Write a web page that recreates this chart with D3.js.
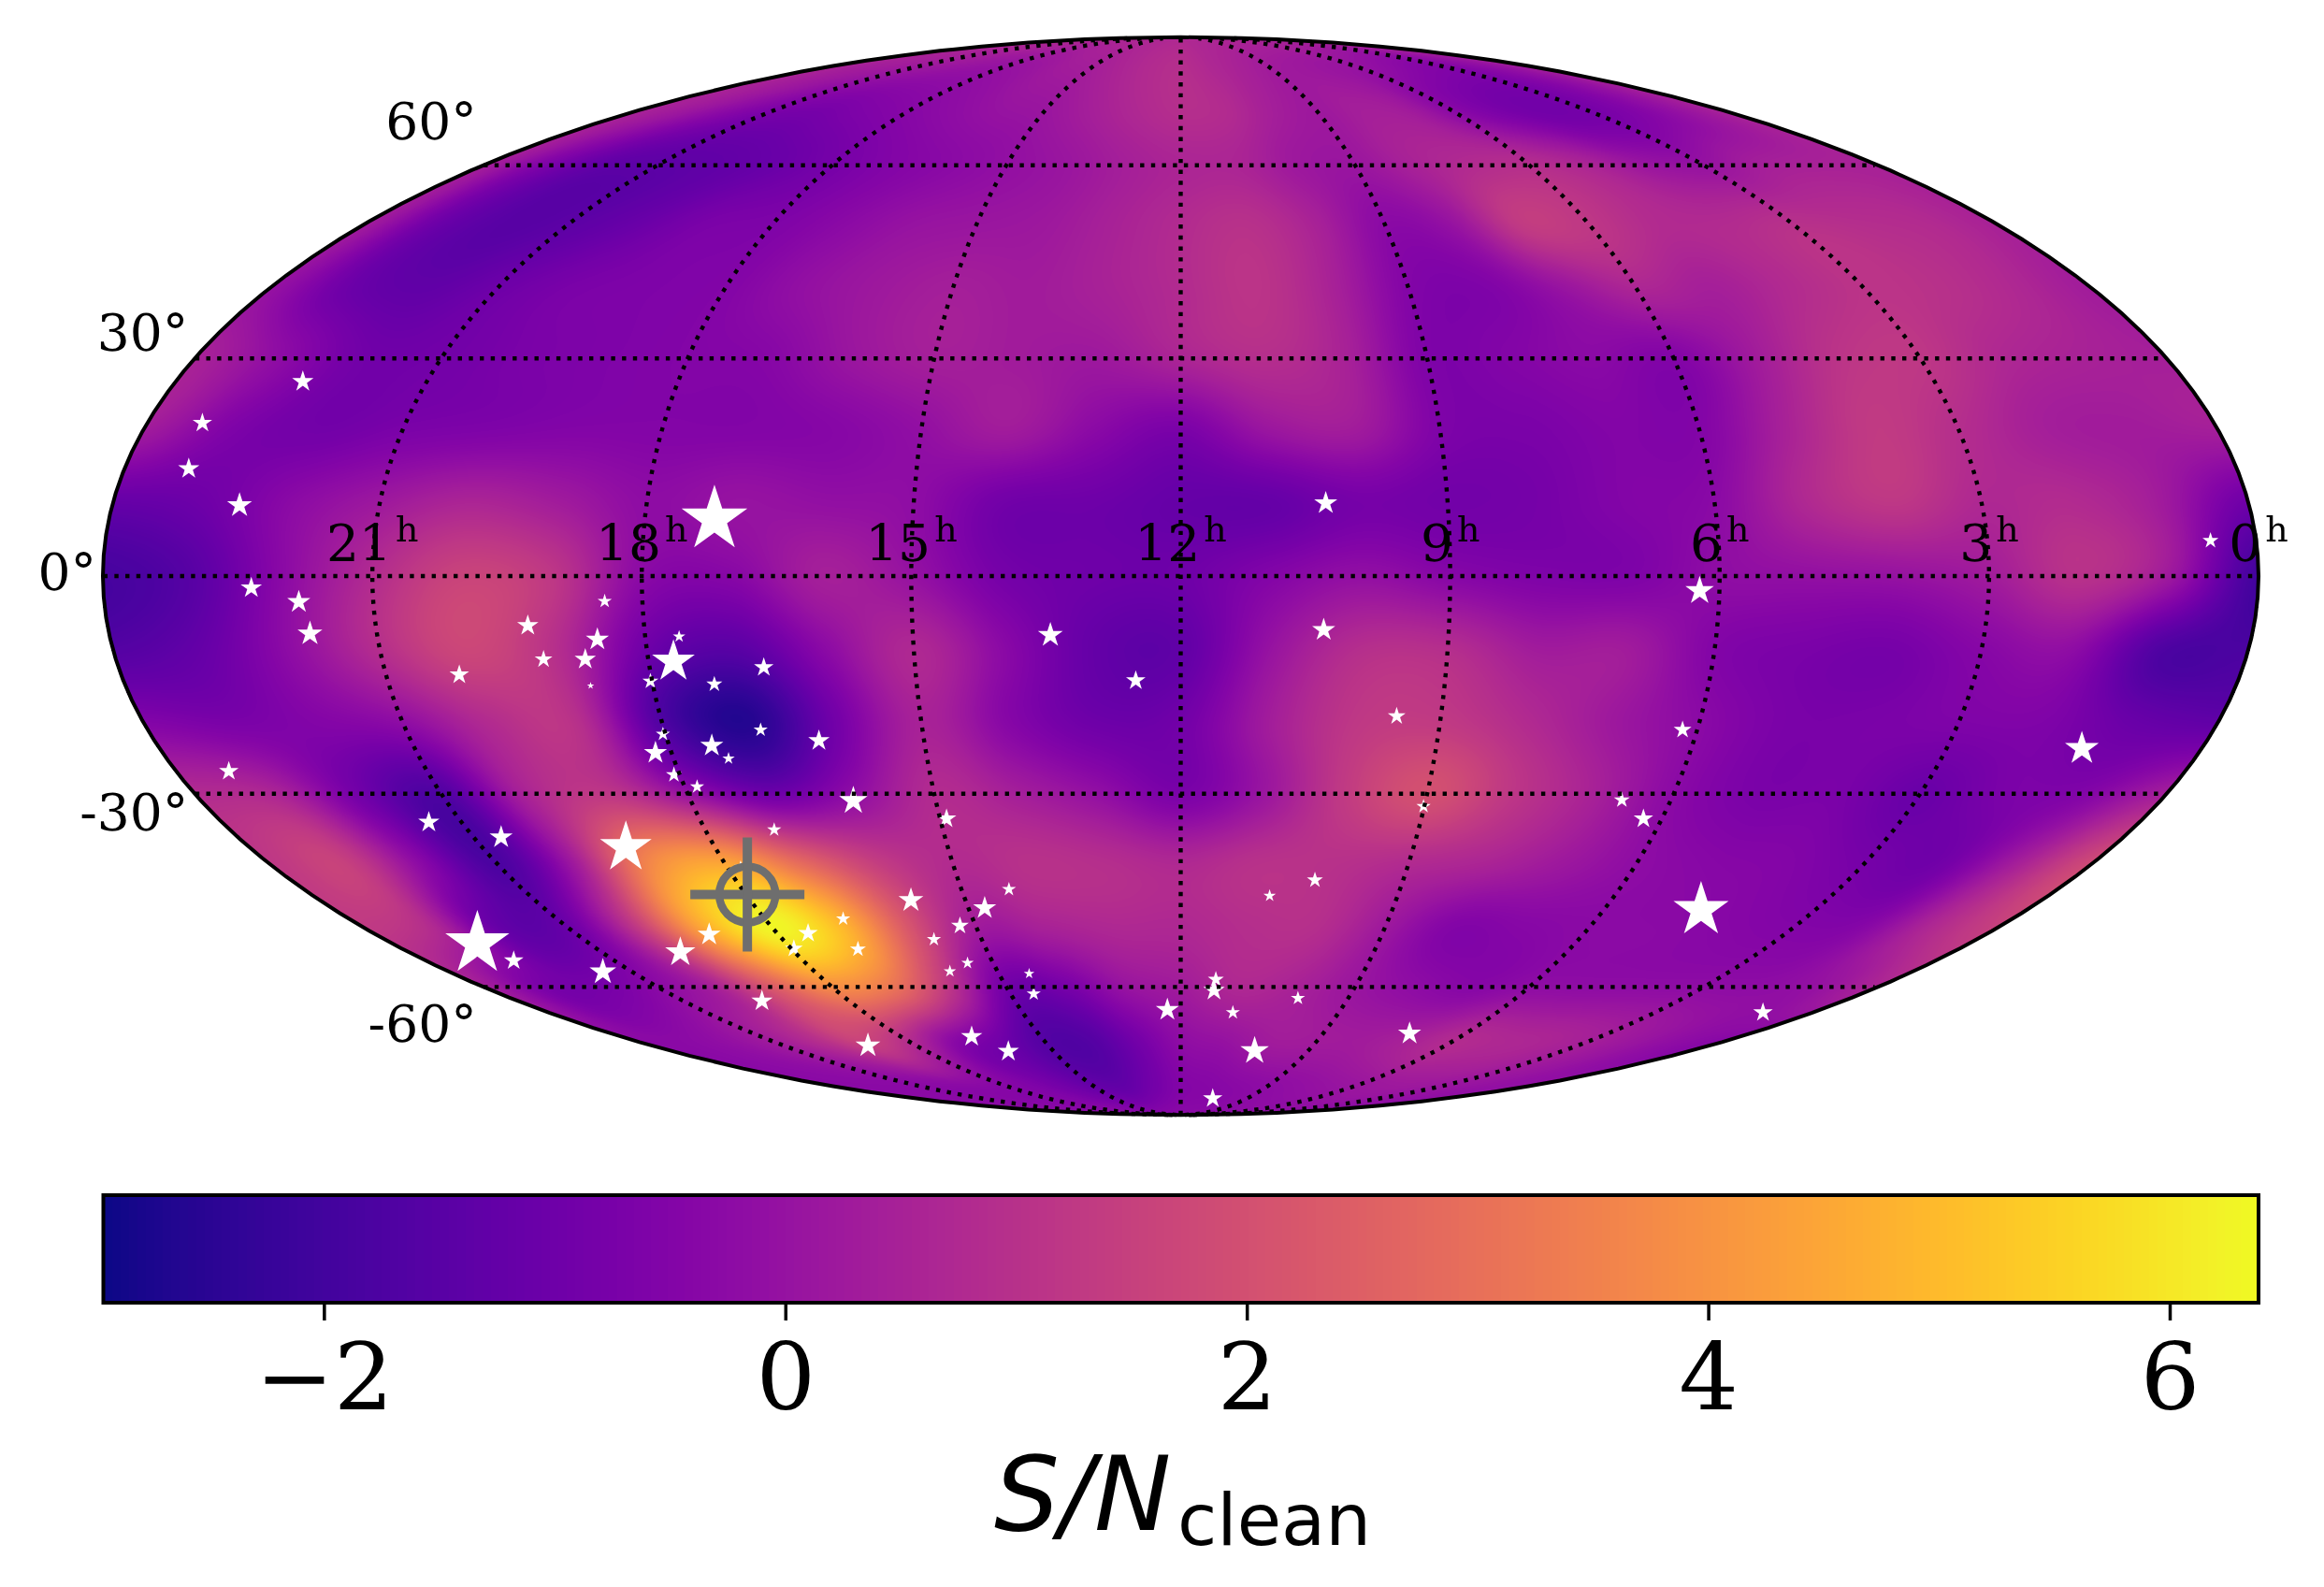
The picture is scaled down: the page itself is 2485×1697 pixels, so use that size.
<!DOCTYPE html>
<html><head><meta charset="utf-8"><style>html,body{margin:0;padding:0;background:#fff}#w{position:relative;width:2485px;height:1697px;overflow:hidden}canvas,svg{position:absolute;left:0;top:0}</style>
<script src="https://cdn.jsdelivr.net/npm/d3@7"></script></head><body><div id="w"></div>
<script>
// ---------- data ----------
const gridRA = d3.range(24, -1, -1);            // hours
const gridDec = d3.range(90, -91, -10);         // degrees
const snr = [
/* 90*/[.7,.7,.7,.7,.7,.7,.7,.7,.7,.7,.7,.7,.7,.7,.7,.7,.7,.7,.7,.7,.7,.7,.7,.7,.7],
/* 80*/[.6,.4,.3,.2,.1,0,0,.1,.3,.4,.6,.8,.9,.7,.5,.3,.2,.1,0,-.2,-.4,-.5,-.3,0,.4],
/* 70*/[.5,.2,-.3,-.7,-.8,-.6,-.4,-.2,0,.1,.4,.7,.9,.8,.4,.2,.4,.3,-.3,-.7,-.9,-.8,-.5,0,.5],
/* 60*/[.4,-.6,-1.3,-1.4,-1.3,-1.1,-.8,-.5,-.3,-.1,.1,.4,.6,.6,.2,.1,.5,.8,.9,.6,.1,0,.4,.5,.5],
/* 50*/[.3,-1,-1.5,-1.4,-1.1,-.7,-.6,-.3,0,.1,.2,.5,.8,1,.5,-.3,0,1.3,1.2,.8,.8,1,.9,.8,.5],
/* 40*/[0,-1,-1.3,-1,-.7,-.6,-.5,-.1,.2,.4,.3,.5,.8,1.1,.5,-.5,-.6,0,.6,.4,.8,1.1,1,.7,.3],
/* 30*/[.5,-.2,-.9,-.9,-.7,-.6,-.5,-.4,.1,.4,.3,.2,.6,.9,.5,-.6,-.5,-.3,-.5,.3,1.1,1.2,.7,.5,.4],
/* 20*/[.3,-.6,-.9,-.7,-.6,-.5,-.5,-.5,-.4,-.1,.3,-.3,-.7,.1,.3,-.6,-.7,-.5,-.5,.5,1.3,.9,.4,.3,.4],
/* 10*/[-1.2,-1,-.3,.2,.6,.3,-.2,0,-.1,-.2,-.9,-1,-1.2,-1.2,-.8,-.9,-.8,-.5,-.3,.7,1.2,.7,.8,.3,-1],
/*  0*/[-1.9,-1.5,-.3,.8,1.6,1.2,-.3,-.4,.4,0,-.8,-1,-1,-.5,-.1,-.4,-.6,-.6,-.2,-.1,0,.3,1,.2,-2],
/*-10*/[-1.6,-1.2,-.2,.9,1.7,.9,-1,-1.5,-.3,.7,-.3,-1.2,-1.3,0,.9,.9,.3,.3,-.5,-.7,-.8,-.4,-.2,-1.7,-1.8],
/*-20*/[-.5,-.7,-.5,-.2,.8,1,-1.7,-2.6,-.9,.5,-.4,-1,-.9,.3,1.2,1.3,.8,.2,-.3,-.7,-.7,-.6,-.6,-1.1,-1.3],
/*-30*/[.8,.6,-.9,-1.7,.5,1.2,0,-1,-.2,.8,.4,-.1,-.7,.1,1.3,2,1.2,.5,-.3,-.7,-.7,-1.1,-.7,-.5,.4],
/*-40*/[1.2,1.5,-.3,-1.8,.2,3.6,4.4,2.8,1.4,.8,1,.9,.7,1,1,.8,.6,.2,-.2,-.4,-.5,-.8,-.9,.4,1.8],
/*-50*/[1.3,.8,-1.2,-1.1,1.2,4.6,6.3,5,2.2,.3,.5,.7,.7,.9,.9,.2,-.5,-.4,-.3,-.3,-.4,-.5,-.4,.7,1.5],
/*-60*/[.4,-.7,-.8,-.3,.5,2.4,3.8,3.2,1.2,-.9,-.8,0,.3,.7,.5,.1,-.2,-.4,-.2,-.2,-.2,-.2,-.2,0,.6],
/*-70*/[-.3,-.3,-.1,.3,.9,1.6,.9,-.3,-.9,-1.6,-1.6,-.9,-.2,0,.3,.3,.3,.5,.8,.7,.6,.4,.1,-.2,-.4],
/*-80*/[-.3,-.3,-.3,-.3,-.3,-.3,-.4,-.6,-.9,-1.2,-1.3,-.9,-.5,-.4,-.3,-.2,-.1,0,.1,.2,.2,.1,0,-.1,-.1],
/*-90*/[-.3,-.3,-.3,-.3,-.3,-.3,-.3,-.3,-.3,-.3,-.3,-.3,-.3,-.3,-.3,-.3,-.3,-.3,-.3,-.3,-.3,-.3,-.3,-.3,-.3]
];
const snrExtent = [-2.956, 6.385];
const cbTicks = [-2, 0, 2, 4, 6];
const hourTicks = [21, 18, 15, 12, 9, 6, 3, 0];
const decTicks = [60, 30, 0, -30, -60];
const meridianHours = [3, 6, 9, 12, 15, 18, 21];
const target = [17.98, -44.9];
// stars: right ascension (h), declination (deg), weight
const starRA = [22.35,21.83,21.75,18.42,19.30,18.54,19.18,18.71,20.17,17.72,17.62,18.02,18.71,17.30,16.71,13.46,12.51,18.03,16.88,16.23,17.50,17.35,18.19,18.07,17.85,23.37,16.01,14.92,21.41,20.65,17.13,19.15,22.71,22.60,21.48,19.78,19.03,17.54,17.96,16.98,16.87,15.76,14.77,15.23,14.35,15.72,15.41,15.78,14.50,14.59,19.58,19.09,16.48,16.07,12.25,22.48,23.36,23.27,22.57,17.22,10.37,0.51,6.22,10.40,9.51,6.17,1.41,6.60,6.23,9.01,10.19,10.77,4.62,11.41,11.42,9.90,11.01,0.95,7.18,10.26,10.55,17.82];
const starDec = [-1.6,-3.5,-7.8,-3.4,-6.7,-8.6,-11.3,-11.3,-13.4,-11.6,-8.2,-14.3,-14.9,-14.7,-12.4,-8.0,-14.2,-21.6,-21.0,-22.5,-23.2,-25.0,-24.2,-27.3,-29.0,-26.8,-31.0,-33.6,-34.1,-36.3,-35.2,-37.8,-52.7,-55.5,-57.4,-54.1,-51.2,-51.0,-53.5,-53.6,-48.7,-45.8,-47.0,-49.8,-44.1,-52.0,-55.9,-57.3,-57.7,-61.2,-62.5,-71.0,-69.2,-72.2,-64.1,26.7,20.9,14.6,9.6,7.7,9.9,4.8,-2.0,-7.3,-19.1,-21.0,-23.6,-30.9,-33.6,-31.8,-42.7,-45.1,-47.3,-58.7,-60.6,-62.0,-64.6,-64.6,-68.6,-72.1,-83.5,-40.7];
const starWeight = [12,13,14,8,12,13,10,12,11,24,7,9,4,9,11,14,11,8,8,12,13,7,13,9,8,11,16,11,12,13,8,29,36,11,15,17,13,11,10,9,8,14,13,10,8,8,7,7,6,8,12,14,12,12,13,12,11,12,14,37,13,9,16,13,10,10,19,9,11,8,9,7,31,9,12,8,8,11,13,16,11,7];

// ---------- layout ----------
const W = 2485, H = 1697, cx = 1262.5, cy = 616, semiA = 1152.5;
function mollweideRaw(l, p) {
  let t = p, target = Math.PI * Math.sin(p);
  if (Math.abs(p) > Math.PI / 2 - 1e-6) t = Math.sign(p) * Math.PI / 2;
  else for (let i = 0; i < 40; i++) { const d = (t * 2 + Math.sin(2 * t) - target) / (2 + 2 * Math.cos(2 * t)); t -= d; if (Math.abs(d) < 1e-9) break; }
  return [2 * Math.SQRT2 / Math.PI * l * Math.cos(t), Math.SQRT2 * Math.sin(t)];
}
mollweideRaw.invert = function (x, y) {
  const t = Math.asin(Math.max(-1, Math.min(1, y / Math.SQRT2)));
  return [Math.PI * x / (2 * Math.SQRT2 * Math.cos(t)), Math.asin(Math.max(-1, Math.min(1, (2 * t + Math.sin(2 * t)) / Math.PI)))];
};
const projection = d3.geoProjection(mollweideRaw).scale(semiA / (2 * Math.SQRT2)).translate([cx, cy]).precision(0.3);
const path = d3.geoPath(projection);
const lonOf = h => (12 - h) * 15;

const color = d3.scaleSequential(d3.interpolatePlasma).domain(snrExtent);
const lut = d3.range(1025).map(i => d3.rgb(color(snrExtent[0] + (snrExtent[1] - snrExtent[0]) * i / 1024)));
const lutOf = v => lut[Math.max(0, Math.min(1024, Math.round((v - snrExtent[0]) / (snrExtent[1] - snrExtent[0]) * 1024)))];

// bicubic lookup in the RA/Dec table
function cr(a, b, c, d, t) { return b + .5 * t * (c - a + t * (2 * a - 5 * b + 4 * c - d + t * (3 * (b - c) + d - a))); }
const nR = snr.length, nC = gridRA.length;
function field(ra, dec) {
  const fc = 24 - ra, fr = (90 - dec) / 10;
  const c0 = Math.max(0, Math.min(nC - 2, Math.floor(fc))), r0 = Math.max(0, Math.min(nR - 2, Math.floor(fr)));
  const tc = fc - c0, tr = fr - r0, vals = [];
  for (let j = -1; j <= 2; j++) {
    const row = snr[Math.max(0, Math.min(nR - 1, r0 + j))];
    vals.push(cr(row[Math.max(0, c0 - 1)], row[c0], row[c0 + 1], row[Math.min(nC - 1, c0 + 2)], tc));
  }
  return cr(vals[0], vals[1], vals[2], vals[3], tr);
}

const wrap = d3.select('#w');
const canvas = wrap.append('canvas').attr('width', W).attr('height', H).node();
const ctx = canvas.getContext('2d');
const img = ctx.createImageData(W, H);
const bMap = { y0: 38, y1: 1194 };
for (let y = bMap.y0; y <= bMap.y1; y++) {
  const dy = (cy - y) / (semiA / 2);
  if (Math.abs(dy) >= 1) continue;
  const half = semiA * Math.sqrt(1 - dy * dy);
  for (let x = Math.floor(cx - half) - 1; x <= cx + half + 1; x++) {
    const ll = projection.invert([x + .5, y + .5]);
    if (!ll || Math.abs(ll[0]) > 180) continue;
    const c = lutOf(field(12 - ll[0] / 15, ll[1]));
    const k = (y * W + x) * 4;
    img.data[k] = c.r; img.data[k + 1] = c.g; img.data[k + 2] = c.b; img.data[k + 3] = 255;
  }
}
ctx.putImageData(img, 0, 0);

// colour bar
const cbar = { x0: 110.5, x1: 2415, y0: 1278, y1: 1393 };
const cbX = d3.scaleLinear().domain(snrExtent).range([cbar.x0, cbar.x1]);
for (let x = Math.floor(cbar.x0); x < cbar.x1; x++) {
  ctx.fillStyle = color(cbX.invert(x + .5));
  ctx.fillRect(x, cbar.y0, 1, cbar.y1 - cbar.y0);
}

const svg = wrap.append('svg').attr('width', W).attr('height', H);
// stars
const star = d3.symbol().type(d3.symbolStar);
svg.append('g').selectAll('path').data(starRA).join('path')
  .attr('d', (d, i) => star.size(starWeight[i] * starWeight[i] / 0.8908)())
  .attr('transform', (d, i) => { const p = projection([lonOf(d), starDec[i]]); return `translate(${p[0]},${p[1]})`; })
  .attr('fill', '#fff');
// graticule
const dotted = { fill: 'none', stroke: '#000', 'stroke-width': 4.4, 'stroke-dasharray': '4.4 7.3' };
const gGrid = svg.append('g');
const applyAttrs = (s, o) => { Object.entries(o).forEach(([k, v]) => s.attr(k, v)); return s; };
applyAttrs(gGrid.selectAll('.m').data(meridianHours).join('path').attr('d', h => path({ type: 'LineString', coordinates: d3.range(-89.9, 90, 1).map(lat => [lonOf(h), lat]) })), dotted);
applyAttrs(gGrid.selectAll('.p').data(decTicks).join('path').attr('d', lat => path({ type: 'LineString', coordinates: d3.range(-179.9, 180, 1).map(l => [l, lat]) })), dotted);
// outline
svg.append('path').attr('d', path({ type: 'Sphere' })).attr('fill', 'none').attr('stroke', '#000').attr('stroke-width', 4);
// target marker
const tp = projection([lonOf(target[0]), target[1]]);
const gT = svg.append('g').attr('transform', `translate(${tp[0]},${tp[1]})`).attr('stroke', '#6e6e6e').attr('fill', 'none');
gT.append('circle').attr('r', 30).attr('stroke-width', 8.5);
gT.append('line').attr('x1', -61).attr('x2', 61).attr('stroke-width', 10);
gT.append('line').attr('y1', -61).attr('y2', 61).attr('stroke-width', 10);
// hour labels
const serif = "'DejaVu Serif', serif";
const hl = svg.append('g').attr('font-family', serif).attr('font-size', 55).attr('fill', '#000').attr('text-anchor', 'middle');
hourTicks.forEach(h => {
  const p = projection([h === 0 ? 179.999 : lonOf(h), 0]);
  const t = hl.append('text').attr('x', p[0]).attr('y', p[1] - 16);
  t.append('tspan').text(h);
  t.append('tspan').attr('font-size', 38).attr('dy', -21).attr('dx', 4).text('h');
});
// declination labels
const decDx = { '60': 7, '30': 7, '0': 7, '-30': 7, '-60': 7 };
const decDy = { '60': -28, '30': -8, '0': 15, '-30': 39, '-60': 59 };
svg.append('g').attr('font-family', serif).attr('font-size', 55).attr('text-anchor', 'end')
  .selectAll('text').data(decTicks).join('text')
  .attr('x', d => projection([-179.999, d])[0] - decDx[d])
  .attr('y', d => projection([-179.999, d])[1] + decDy[d])
  .text(d => d + '°');
// colour bar frame and axis
svg.append('rect').attr('x', cbar.x0).attr('y', cbar.y0).attr('width', cbar.x1 - cbar.x0).attr('height', cbar.y1 - cbar.y0)
  .attr('fill', 'none').attr('stroke', '#000').attr('stroke-width', 4);
const ax = svg.append('g').attr('transform', `translate(0,${cbar.y1})`)
  .call(d3.axisBottom(cbX).tickValues(cbTicks).tickSize(19).tickPadding(24).tickFormat(d => (d < 0 ? '\u2212' : '') + Math.abs(d)));
ax.select('.domain').remove();
ax.selectAll('line').attr('stroke', '#000').attr('stroke-width', 3.5);
ax.selectAll('text').attr('font-family', serif).attr('font-size', 100).attr('fill', '#000');
// colour bar label
const lab = svg.append('g').attr('font-family', "'DejaVu Sans', sans-serif").attr('fill', '#000');
lab.append('text').attr('x', 1063).attr('y', 1636).attr('font-size', 110).attr('font-style', 'italic').text('S/N');
lab.append('text').attr('x', 1259).attr('y', 1652).attr('font-size', 77).text('clean');
</script></body></html>
